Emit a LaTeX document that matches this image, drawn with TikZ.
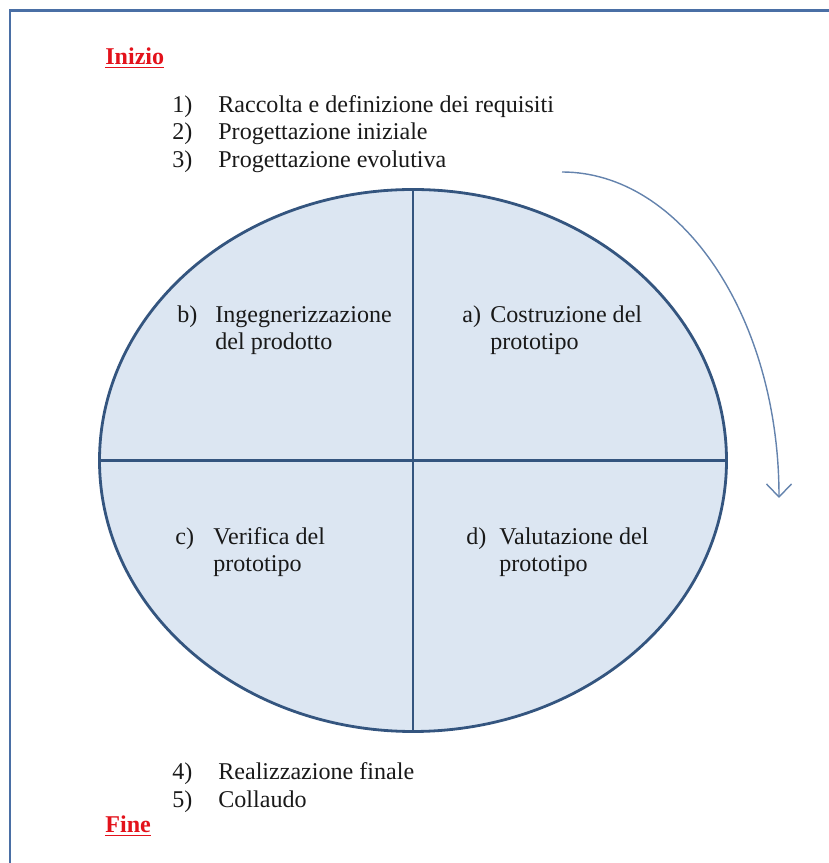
\documentclass[tikz,border=0pt]{standalone}
\usepackage{fontspec}
\setmainfont{Liberation Serif}
\usetikzlibrary{arrows.meta, shapes.geometric}
\definecolor{cframe}{HTML}{4A6FA5}
\definecolor{cfill}{HTML}{DCE6F2}
\definecolor{cline}{HTML}{34557F}
\definecolor{carrow}{HTML}{6483AD}
\definecolor{cred}{HTML}{E3121B}
\tikzset{
  every picture/.style={font=\fontsize{13.7}{15.5}\selectfont},
  item/.style={anchor=base west, inner sep=0pt, text=black!90},
  qtext/.style={item, align=left},
  endpoint/.style={anchor=base west, inner sep=0pt, text=cred, font=\fontsize{13.7}{15.5}\selectfont\bfseries},
  cyclebox/.style={ellipse, draw=cline, fill=cfill, line width=1.6pt, minimum width=12.54cm, minimum height=10.84cm, inner sep=0pt},
  divider/.style={draw=cline, line width=1.6pt},
  flowarrow/.style={-{Straight Barb[length=2.6mm, width=5mm]}, draw=carrow, line width=0.8pt},
}
\begin{document}
\begin{tikzpicture}
  \useasboundingbox (0,0) rectangle (16.58,17.26);
  % frame
  \draw[cframe, line width=1.7pt] (0.2,-0.1) -- (0.2,17.04) -- (16.7,17.04);
  % start and end
  \node[endpoint] (start) at (2.1,15.96) {\underline{Inizio}};
  \node[endpoint] (stop) at (2.1,0.6) {\underline{Fine}};
  % steps before the cycle
  \node[item] (n1) at (3.44,15.0)  {1)};
  \node[item] (s1) at (4.36,15.0)  {Raccolta e definizione dei requisiti};
  \node[item] (n2) at (3.44,14.46) {2)};
  \node[item] (s2) at (4.36,14.46) {Progettazione iniziale};
  \node[item] (n3) at (3.44,13.91) {3)};
  \node[item] (s3) at (4.36,13.91) {Progettazione evolutiva};
  % the cycle
  \node[cyclebox] (cyc) at (8.26,8.05) {};
  \draw[divider] (cyc.north) -- (cyc.south);
  \draw[divider] (cyc.west) -- (cyc.east);
  \node[item]  (qa) at (9.24,10.80)  {a)};
  \node[qtext] (ta) at (9.80,10.26)  {Costruzione del\\prototipo};
  \node[item]  (qb) at (3.54,10.80)  {b)};
  \node[qtext] (tb) at (4.30,10.26)  {Ingegnerizzazione\\del prodotto};
  \node[item]  (qc) at (3.50,6.36)   {c)};
  \node[qtext] (tc) at (4.26,5.82)   {Verifica del\\prototipo};
  \node[item]  (qd) at (9.32,6.36)   {d)};
  \node[qtext] (td) at (9.98,5.82)   {Valutazione del\\prototipo};
  % direction of the cycle
  \coordinate (arcstart) at (11.24,13.82);
  \draw[flowarrow] (arcstart) arc[start angle=90, end angle=0, x radius=4.34, y radius=6.52];
  % steps after the cycle
  \node[item] (n4) at (3.44,1.66) {4)};
  \node[item] (s4) at (4.36,1.66) {Realizzazione finale};
  \node[item] (n5) at (3.44,1.12) {5)};
  \node[item] (s5) at (4.36,1.12) {Collaudo};
\end{tikzpicture}
\end{document}
